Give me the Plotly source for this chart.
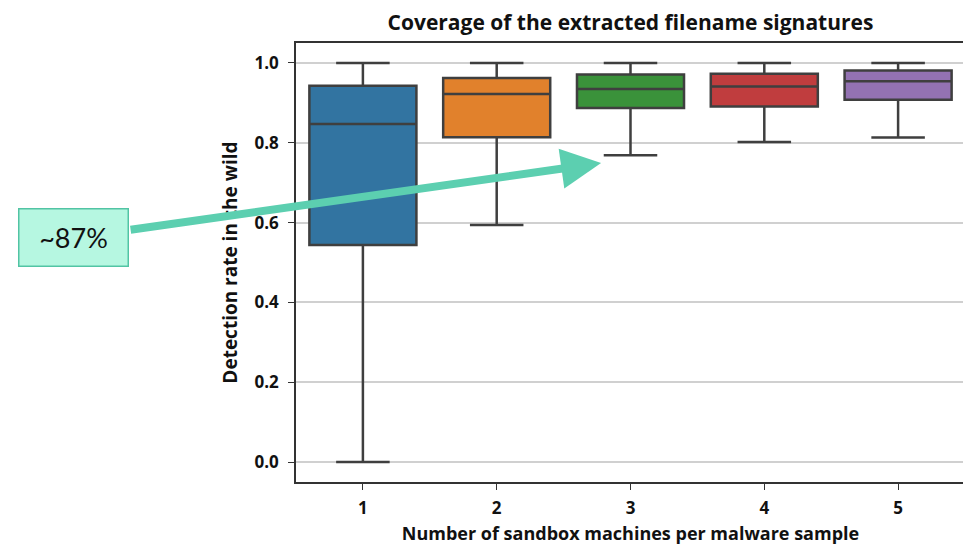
import plotly.graph_objects as go

categories = ["1", "2", "3", "4", "5"]
q1 = [0.544, 0.814, 0.887, 0.891, 0.908]
median = [0.847, 0.922, 0.935, 0.941, 0.954]
q3 = [0.943, 0.962, 0.971, 0.973, 0.981]
lower = [0.0, 0.594, 0.769, 0.802, 0.813]
upper = [1.0, 1.0, 1.0, 1.0, 1.0]
colors = ["#3274a1", "#e1812c", "#3a923a", "#c03d3e", "#9372b2"]

FONT = "Open Sans"
W, H = 963, 537  # page body has an 8px default margin
OFF = 8
L, T, R, B = 296 - OFF, 43 - OFF, 967 - OFF, 482 - OFF
PW, PH = R - L, B - T

fig = go.Figure()
for i, c in enumerate(categories):
    fig.add_trace(go.Box(
        x=[c], q1=[q1[i]], median=[median[i]], q3=[q3[i]],
        lowerfence=[lower[i]], upperfence=[upper[i]],
        fillcolor=colors[i], line=dict(color="#3f3f3f", width=2.5),
        width=0.8, whiskerwidth=0.5, showlegend=False, boxpoints=False,
        hoverinfo="skip",
    ))

fig.update_layout(
    width=W, height=H,
    margin=dict(l=L, r=W - R, t=T, b=H - B),
    paper_bgcolor="white", plot_bgcolor="white",
    boxmode="overlay",
    font=dict(family=FONT, color="#111111"),
    title=dict(text="<b>Coverage of the extracted filename signatures</b>",
               x=0.5, xref="paper", xanchor="center", y=1 - (23 - OFF) / H, yanchor="middle",
               font=dict(size=21, family=FONT, color="#111111")),
    xaxis=dict(type="category", range=[-0.5, 4.5], showgrid=False,
               showline=True, linecolor="#333333", linewidth=1.5, mirror=True,
               ticks="outside", ticklen=6, tickcolor="#333333", ticklabelstandoff=4,
               tickfont=dict(size=17, family=FONT, weight="bold", color="#111111"),
               title=dict(text="<b>Number of sandbox machines per malware sample</b>",
                          font=dict(size=18, family=FONT), standoff=9)),
    yaxis=dict(range=[-0.05, 1.05], tickvals=[0, 0.2, 0.4, 0.6, 0.8, 1.0], tickformat=".1f",
               showgrid=True, gridcolor="#d0d0d0", gridwidth=1.5, zeroline=False,
               showline=True, linecolor="#333333", linewidth=1.5, mirror=True,
               ticks="outside", ticklen=6, tickcolor="#333333", ticklabelstandoff=6,
               tickfont=dict(size=17, family=FONT, weight="bold", color="#111111"),
               title=dict(text="<b>Detection rate in the wild</b>",
                          font=dict(size=19, family=FONT), standoff=12)),
)

# callout box
fig.add_annotation(
    xref="paper", yref="paper", x=(72.5 - OFF - L) / PW, y=(B - (237.5 - OFF)) / PH,
    text="~87%", showarrow=False, font=dict(size=27, family="Lato", color="#111111"),
    bgcolor="#b6f7e1", bordercolor="#52c4a4", borderwidth=1.5, borderpad=0,
    width=108, height=56, xanchor="center", yanchor="middle", align="center", valign="middle",
)
# arrow
fig.add_annotation(
    xref="paper", yref="paper", x=(602 - OFF - L) / PW, y=(B - (163 - OFF)) / PH,
    ax=130 - 602, ay=230 - 163, axref="pixel", ayref="pixel",
    text="", showarrow=True, arrowhead=2, arrowsize=1.0, arrowwidth=8,
    arrowcolor="#5ccfb0", standoff=0,
)

fig.write_html("out.html")
